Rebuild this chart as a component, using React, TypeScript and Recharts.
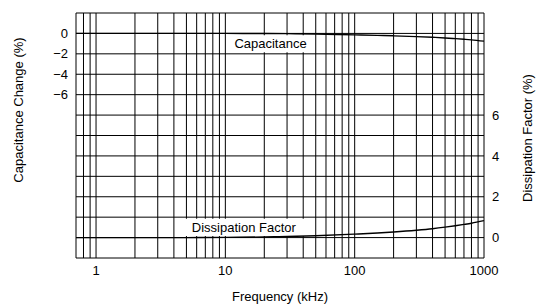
import React from 'react';
import { LineChart, Line, XAxis, YAxis, ReferenceLine, ReferenceArea, Label } from 'recharts';

// frequency in kHz
const frequency = [0.7, 1, 2, 5, 10, 20, 30, 50, 100, 150, 200, 300, 400, 500, 600, 700, 800, 1000];
// capacitance change (%) - left axis
const capacitanceChange = [0, 0, 0, 0, 0, -0.01, -0.02, -0.06, -0.14, -0.19, -0.235, -0.31, -0.38, -0.445, -0.51, -0.57, -0.63, -0.76];
// dissipation factor (%) - right axis
const dissipationFactor = [0, 0, 0, 0, 0.01, 0.03, 0.05, 0.09, 0.17, 0.225, 0.275, 0.36, 0.435, 0.51, 0.58, 0.645, 0.705, 0.83];

const xTicks = [1, 10, 100, 1000];
const capTicks = [0, -2, -4, -6];
const dfTicks = [0, 2, 4, 6];

const xGridLines = [
  0.7, 0.8, 0.9, 1, 2, 3, 4, 5, 6, 7, 8, 9, 10, 20, 30, 40, 50, 60, 70, 80, 90,
  100, 200, 300, 400, 500, 600, 700, 800, 900, 1000,
];
const yGridLines = [2, 0, -2, -4, -6, -8, -10, -12, -14, -16, -18, -20, -22];

const data = frequency.map((f, i) => ({
  f,
  cap: capacitanceChange[i],
  df: dissipationFactor[i],
}));

const font = "'Liberation Sans', Arial, Helvetica, sans-serif";
const fmt = (v: number) => (v < 0 ? `\u2212${Math.abs(v)}` : `${v}`);

const AxisTitle = (props: any) => {
  const { viewBox, value, dx, cy } = props;
  const x = viewBox.x + dx;
  return (
    <text
      x={x}
      y={cy}
      transform={`rotate(-90, ${x}, ${cy})`}
      textAnchor="middle"
      dominantBaseline="central"
      fontSize={13}
      fontFamily={font}
      fill="#000"
    >
      {value}
    </text>
  );
};

export default function App() {
  return (
    <div style={{ position: 'absolute', left: 0, top: 0, width: 540, height: 305, background: '#fff' }}>
      <LineChart
        width={540}
        height={305}
        data={data}
        margin={{ top: 13, right: 0, bottom: 0, left: 0 }}
        style={{ fontFamily: font }}
      >
        <XAxis
          dataKey="f"
          type="number"
          scale="log"
          domain={[0.7, 1000]}
          allowDataOverflow
          ticks={xTicks}
          interval={0}
          axisLine={false}
          tickLine={false}
          tickSize={0}
          tickMargin={8}
          height={47}
          tick={{ fill: '#000', fontSize: 13 }}
        >
          <Label value="Frequency (kHz)" position="insideBottom" offset={4} fill="#000" fontSize={13} />
        </XAxis>
        <YAxis
          yAxisId="left"
          domain={[-22, 2]}
          allowDataOverflow
          ticks={capTicks}
          interval={0}
          tickFormatter={fmt}
          axisLine={false}
          tickLine={false}
          tickSize={0}
          tickMargin={8}
          width={76}
          tick={{ fill: '#000', fontSize: 13 }}
          label={{ value: 'Capacitance Change (%)', content: (p: any) => <AxisTitle {...p} value="Capacitance Change (%)" dx={18} cy={110} /> }}
        />
        <YAxis
          yAxisId="right"
          orientation="right"
          domain={[-1, 11]}
          allowDataOverflow
          ticks={dfTicks}
          interval={0}
          axisLine={false}
          tickLine={false}
          tickSize={0}
          tickMargin={8}
          width={56}
          tick={{ fill: '#000', fontSize: 13, textAnchor: 'start' }}
          label={{ value: 'Dissipation Factor (%)', content: (p: any) => <AxisTitle {...p} value="Dissipation Factor (%)" dx={43} cy={138} /> }}
        />

        {xGridLines.map((v) => (
          <ReferenceLine key={`x${v}`} yAxisId="left" x={v} stroke="#000" strokeWidth={1} ifOverflow="visible" zIndex={-100} />
        ))}
        {yGridLines.map((v) => (
          <ReferenceLine key={`y${v}`} yAxisId="left" y={v} stroke="#000" strokeWidth={1} ifOverflow="visible" zIndex={-100} />
        ))}

        <ReferenceArea
          yAxisId="left"
          x1={10.2}
          x2={49}
          y1={-1.85}
          y2={-0.18}
          fill="#fff"
          fillOpacity={1}
          stroke="none"
          zIndex={-50}
          label={{ value: 'Capacitance', position: 'center', fill: '#000', fontSize: 13 }}
        />
        <ReferenceArea
          yAxisId="right"
          x1={4.6}
          x2={42}
          y1={0.08}
          y2={0.92}
          fill="#fff"
          fillOpacity={1}
          stroke="none"
          zIndex={-50}
          label={{ value: 'Dissipation Factor', position: 'center', fill: '#000', fontSize: 13 }}
        />

        <Line
          yAxisId="left"
          dataKey="cap"
          type="monotone"
          stroke="#000"
          strokeWidth={1.4}
          dot={false}
          activeDot={false}
          isAnimationActive={false}
        />
        <Line
          yAxisId="right"
          dataKey="df"
          type="monotone"
          stroke="#000"
          strokeWidth={1.4}
          dot={false}
          activeDot={false}
          isAnimationActive={false}
        />
      </LineChart>
    </div>
  );
}
